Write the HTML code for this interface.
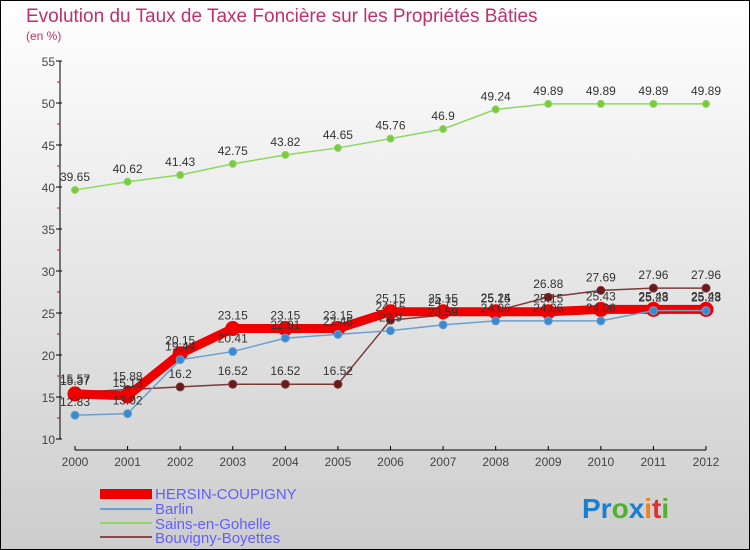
<!DOCTYPE html>
<html><head><meta charset="utf-8"><style>
body{margin:0;background:#fff}
svg{display:block;font-family:"Liberation Sans",sans-serif}
</style></head><body>
<svg width="750" height="550" viewBox="0 0 750 550">
<defs><linearGradient id="bg" x1="0" y1="0" x2="0" y2="1"><stop offset="0" stop-color="#ffffff"/><stop offset="1" stop-color="#cdcdcd"/></linearGradient></defs>
<rect x="0.5" y="0.5" width="749" height="549" fill="url(#bg)" stroke="#000"/>
<text x="26" y="22" font-size="19" fill="#c0306a">Evolution du Taux de Taxe Foncière sur les Propriétés Bâties</text>
<text x="26" y="40" font-size="12" fill="#c0306a">(en %)</text>
<g id="axes"></g>
<g id="series"></g>
<g>
<rect x="100" y="489" width="52" height="10" fill="#e00"/>
<text x="155" y="499" font-size="15" fill="#6060ff">HERSIN-COUPIGNY</text>
<line x1="100" y1="509" x2="152" y2="509" stroke="#6aa0d0" stroke-width="2"/>
<text x="155" y="514" font-size="15" fill="#6060ff">Barlin</text>
<line x1="100" y1="523" x2="152" y2="523" stroke="#8fd860" stroke-width="2"/>
<text x="155" y="529" font-size="15" fill="#6060ff">Sains-en-Gohelle</text>
<line x1="100" y1="537" x2="152" y2="537" stroke="#8a4a4a" stroke-width="2"/>
<text x="155" y="543" font-size="15" fill="#6060ff">Bouvigny-Boyettes</text>
</g>
<g font-size="28" font-weight="bold">
<text x="582" y="518"><tspan fill="#1a7fd0">Pr</tspan><tspan fill="#50b030">o</tspan><tspan fill="#1a7fd0">x</tspan><tspan fill="#f08020">i</tspan><tspan fill="#e03030">t</tspan><tspan fill="#50b030">i</tspan></text>
</g>
</svg>
<script>
const years=[2000,2001,2002,2003,2004,2005,2006,2007,2008,2009,2010,2011,2012];
const yTicks=[10,15,20,25,30,35,40,45,50,55];
const hersin=[15.37,15.13,20.15,23.15,23.15,23.15,25.15,25.15,25.15,25.15,25.43,25.43,25.43];
const barlin=[12.83,13.02,19.44,20.41,22.01,22.45,22.9,23.59,24.06,24.06,24.06,25.28,25.28];
const sains=[39.65,40.62,41.43,42.75,43.82,44.65,45.76,46.9,49.24,49.89,49.89,49.89,49.89];
const bouvigny=[15.57,15.88,16.2,16.52,16.52,16.52,24.15,24.75,25.24,26.88,27.69,27.96,27.96];
const NS="http://www.w3.org/2000/svg";
const X=i=>75+i*(706-75)/(years.length-1);
const Y=v=>439-(v-10)*(439-61)/45;
function mk(t,a,p){const e=document.createElementNS(NS,t);for(const k in a)e.setAttribute(k,a[k]);p.appendChild(e);return e;}
const ax=document.getElementById('axes');
const yl=mk('line',{x1:60,y1:61,x2:60,y2:439,stroke:'#000'},ax);


yTicks.forEach(v=>{
 mk('line',{x1:56,y1:Y(v),x2:62,y2:Y(v),stroke:'#000'},ax);
 if(v<55)mk('line',{x1:57,y1:Y(v+2.5),x2:60,y2:Y(v+2.5),stroke:'#e00'},ax);
 const t=mk('text',{x:55,y:Y(v)+5,'text-anchor':'end','font-size':12,fill:'#444'},ax);t.textContent=v;
 
 
});
const xl=mk('line',{x1:75,y1:450,x2:706,y2:450,stroke:'#000'},ax);


years.forEach((y,i)=>{
 mk('line',{x1:X(i),y1:446,x2:X(i),y2:450,stroke:'#000'},ax);
 const t=mk('text',{x:X(i),y:466,'text-anchor':'middle','font-size':12,fill:'#444'},ax);t.textContent=y;
 
 
});
const sg=document.getElementById('series');
function series(name,data,col,w,r,dot){
 const g=mk('g',{},sg);
 
 
 mk('polyline',{points:data.map((v,i)=>X(i)+','+Y(v)).join(' '),fill:'none',stroke:col,'stroke-width':w,'stroke-linejoin':'round'},g);
 data.forEach((v,i)=>{
  const c=mk('circle',{cx:X(i),cy:Y(v),r:r,fill:dot,stroke:col,'stroke-width':1},g);
  
  
  const t=mk('text',{x:X(i),y:Y(v)-9,'text-anchor':'middle','font-size':12,fill:'#333'},g);t.textContent=v;
  
  
 });
}
series('sains',sains,'#8fd860',1.5,3.5,'#7cc840');
series('bouvigny',bouvigny,'#7a3a3a',1.5,4,'#6a1a1a');
series('hersin',hersin,'#e00',9,7,'#e00');
series('barlin',barlin,'#6aa0d0',1.5,4,'#3a8ad0');
</script>
</body></html>
